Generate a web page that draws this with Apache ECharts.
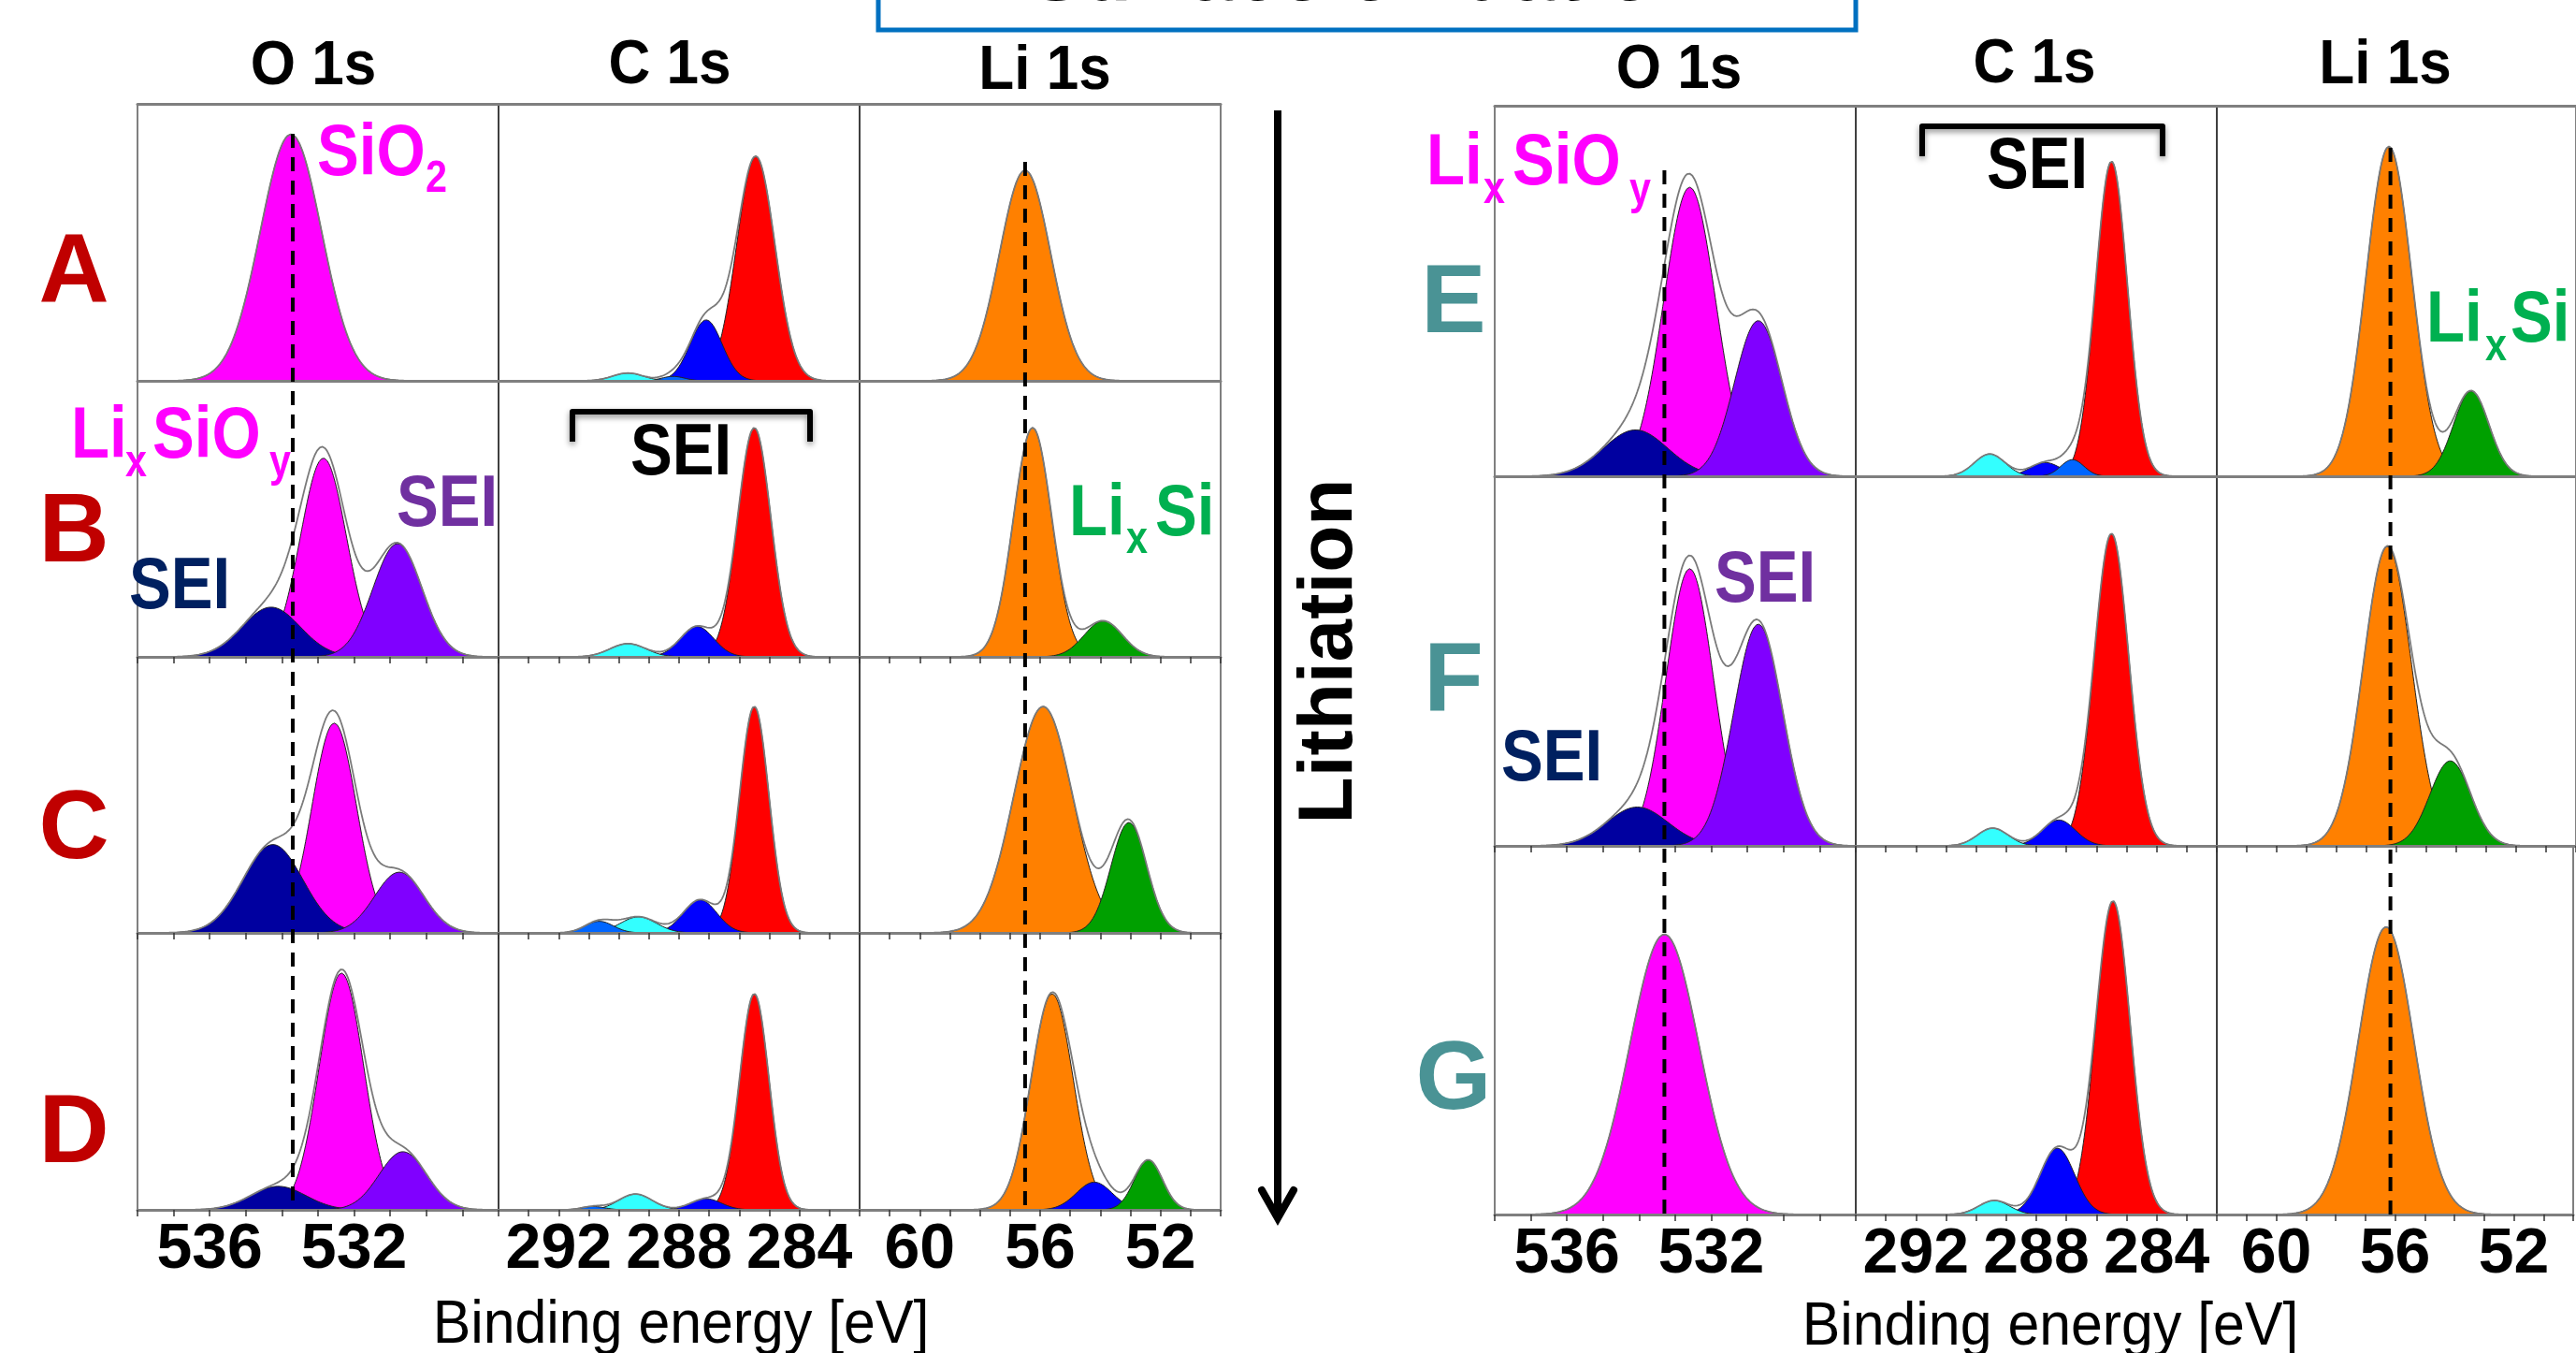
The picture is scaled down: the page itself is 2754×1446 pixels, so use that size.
<!DOCTYPE html>
<html><head><meta charset="utf-8">
<script src="https://cdn.jsdelivr.net/npm/echarts@6/dist/echarts.min.js"></script>
<style>html,body{margin:0;padding:0;background:#fff}#chart{width:2754px;height:1446px}</style>
</head><body><div id="chart"></div>
<script>
// ---------------- DATA ----------------
const columnKeys = ['O1s', 'C1s', 'Li1s'];
const columnTitles = ['O 1s', 'C 1s', 'Li 1s'];
const xRanges = { O1s: [528, 538], C1s: [282, 294], Li1s: [50, 62] };   // binding energy [eV]
const tickLabels = { O1s: [536, 532], C1s: [292, 288, 284], Li1s: [60, 56, 52] };
const leftRows = ['A', 'B', 'C', 'D'];
const rightRows = ['E', 'F', 'G'];
const refLineLeft = { O1s: 533.7, Li1s: 56.5 };
const refLineRight = { O1s: 533.3, Li1s: 56.2 };

// fitted components: [component, centre eV, height (fraction of panel), FWHM eV]
const O1s_A = [['O_main', 533.75, 0.89, 2.0]];
const C1s_A = [['C_CC', 285.45, 0.81, 1.5], ['C_CO', 287.1, 0.22, 1.25], ['C_CO3', 288.2, 0.016, 0.9], ['C_OCO', 289.7, 0.028, 1.2]];
const Li1s_A = [['Li_SEI', 56.5, 0.76, 2.0]];

const O1s_B = [['O_main', 532.85, 0.72, 1.5], ['O_SEI_hi', 534.3, 0.18, 1.9], ['O_SEI_lo', 530.8, 0.41, 1.6]];
const C1s_B = [['C_CC', 285.5, 0.83, 1.3], ['C_CO', 287.4, 0.11, 1.3], ['C_OCO', 289.7, 0.048, 1.4]];
const Li1s_B = [['Li_SEI', 56.25, 0.83, 1.5], ['Li_LixSi', 53.9, 0.13, 1.5]];

const O1s_C = [['O_main', 532.55, 0.76, 1.45], ['O_SEI_hi', 534.25, 0.32, 1.95], ['O_SEI_lo', 530.75, 0.22, 1.6]];
const C1s_C = [['C_CC', 285.5, 0.82, 1.15], ['C_CO', 287.3, 0.12, 1.3], ['C_OCO', 289.35, 0.058, 1.4], ['C_CO3', 290.65, 0.042, 1.1]];
const Li1s_C = [['Li_SEI', 55.9, 0.82, 2.3], ['Li_LixSi', 53.05, 0.40, 1.4]];

const O1s_D = [['O_main', 532.35, 0.855, 1.45], ['O_SEI_hi', 534.1, 0.085, 1.8], ['O_SEI_lo', 530.65, 0.21, 1.55]];
const C1s_D = [['C_CC', 285.5, 0.78, 1.15], ['C_CO', 287.1, 0.04, 1.2], ['C_OCO', 289.45, 0.057, 1.3], ['C_CO3', 290.85, 0.012, 0.9]];
const Li1s_D = [['Li_SEI', 55.6, 0.78, 1.65], ['Li_Li2O', 54.2, 0.10, 1.4], ['Li_LixSi', 52.4, 0.18, 1.1]];

const O1s_E = [['O_main', 532.6, 0.78, 1.7], ['O_SEI_hi', 534.1, 0.125, 2.1], ['O_SEI_lo', 530.7, 0.42, 1.55]];
const C1s_E = [['C_CC', 285.5, 0.85, 1.25], ['C_CO', 287.7, 0.037, 1.2], ['C_CO3', 286.8, 0.045, 0.9], ['C_OCO', 289.55, 0.06, 1.2]];
const Li1s_E = [['Li_SEI', 56.25, 0.89, 1.8], ['Li_LixSi', 53.5, 0.23, 1.4]];

const O1s_F = [['O_main', 532.6, 0.75, 1.55], ['O_SEI_hi', 534.05, 0.105, 2.0], ['O_SEI_lo', 530.7, 0.60, 1.6]];
const C1s_F = [['C_CC', 285.5, 0.845, 1.35], ['C_CO', 287.25, 0.07, 1.3], ['C_OCO', 289.45, 0.048, 1.2]];
const Li1s_F = [['Li_SEI', 56.3, 0.81, 1.9], ['Li_LixSi', 54.2, 0.23, 1.6]];

const O1s_G = [['O_main', 533.3, 0.76, 2.25]];
const C1s_G = [['C_CC', 285.45, 0.85, 1.35], ['C_CO', 287.3, 0.18, 1.35], ['C_OCO', 289.4, 0.038, 1.2]];
const Li1s_G = [['Li_SEI', 56.3, 0.78, 2.2]];

const spectra = {
  A: { O1s: O1s_A, C1s: C1s_A, Li1s: Li1s_A },
  B: { O1s: O1s_B, C1s: C1s_B, Li1s: Li1s_B },
  C: { O1s: O1s_C, C1s: C1s_C, Li1s: Li1s_C },
  D: { O1s: O1s_D, C1s: C1s_D, Li1s: Li1s_D },
  E: { O1s: O1s_E, C1s: C1s_E, Li1s: Li1s_E },
  F: { O1s: O1s_F, C1s: C1s_F, Li1s: Li1s_F },
  G: { O1s: O1s_G, C1s: C1s_G, Li1s: Li1s_G }
};

// ---------------- STYLE / LAYOUT ----------------
const FONT = '"Liberation Sans", Arial, Helvetica, sans-serif';
const componentColors = {
  O_main: '#FF00FF', O_SEI_hi: '#0000A0', O_SEI_lo: '#8000FF',
  C_CC: '#FF0000', C_CO: '#0000FF', C_OCO: '#33FFFF', C_CO3: '#0066FF',
  Li_SEI: '#FF8000', Li_LixSi: '#00A000', Li_Li2O: '#0000FF'
};
const colWidth = 386;
const sides = [
  { rows: leftRows, colLefts: [147, 533, 919], rowEdges: [111, 407, 702, 997, 1293], ref: refLineLeft, refTop: { O1s: 143, Li1s: 173 },
    titleX: [335, 716, 1117], titleY: [72, 71, 77] },
  { rows: rightRows, colLefts: [1598, 1984, 2370], rowEdges: [113, 509, 904, 1298], ref: refLineRight, refTop: { O1s: 182, Li1s: 158 },
    titleX: [1795, 2175, 2550], titleY: [76, 70, 71] }
];

function gauss(c, h, w, x) { return h * Math.exp(-4 * Math.LN2 * (x - c) * (x - c) / (w * w)); }
const STEP = 0.025;

const grids = [], xAxes = [], yAxes = [], series = [];

sides.forEach(side => {
  const nRows = side.rows.length;
  side.rows.forEach((rowKey, r) => {
    const top = side.rowEdges[r], bottom = side.rowEdges[r + 1];
    columnKeys.forEach((col, c) => {
      const range = xRanges[col];
      const gi = grids.length;
      grids.push({ left: side.colLefts[c], top: top, width: colWidth, height: bottom - top,
        show: true, borderColor: '#000', borderWidth: 1, backgroundColor: 'transparent' });
      const xi = xAxes.length;
      xAxes.push({
        gridIndex: gi, type: 'value', min: range[0], max: range[1], inverse: true, interval: 1, z: 3,
        axisLine: { show: true, onZero: false, lineStyle: { color: '#7f7f7f', width: 3 } },
        axisTick: { show: r > 0, length: 7, lineStyle: { color: '#333', width: 1.5 } },
        axisLabel: {
          show: r === nRows - 1, margin: 9, fontSize: 68, fontWeight: 'bold', color: '#000', fontFamily: FONT,
          formatter: v => tickLabels[col].indexOf(Math.round(v)) >= 0 ? String(Math.round(v)) : ''
        },
        splitLine: { show: false }
      });
      if (r === 0) {
        xAxes.push({ gridIndex: gi, type: 'value', position: 'top', min: range[0], max: range[1], inverse: true, z: 3,
          axisLine: { show: true, onZero: false, lineStyle: { color: '#7f7f7f', width: 3 } },
          axisTick: { show: false }, axisLabel: { show: false }, splitLine: { show: false } });
      }
      const yi = yAxes.length;
      yAxes.push({ gridIndex: gi, type: 'value', min: 0, max: 1, show: false });

      const peaks = spectra[rowKey][col];
      peaks.forEach((p, k) => {
        const [comp, ctr, h, w] = p;
        const lo = Math.max(range[0], ctr - 2.4 * w), hi = Math.min(range[1], ctr + 2.4 * w);
        const data = [];
        for (let x = lo; x <= hi + 1e-9; x += STEP) data.push([+x.toFixed(3), gauss(ctr, h, w, x)]);
        series.push({
          type: 'line', xAxisIndex: xi, yAxisIndex: yi, data: data, showSymbol: false, silent: true,
          z: 2 + k * 0.01, animation: false,
          lineStyle: { color: '#222', width: 1 },
          areaStyle: { color: componentColors[comp], opacity: 1, origin: 'start' }
        });
      });
      // envelope (sum of fitted components)
      const env = [];
      for (let x = range[0]; x <= range[1] + 1e-9; x += STEP) {
        let s = 0; peaks.forEach(p => { s += gauss(p[1], p[2], p[3], x); });
        env.push([+x.toFixed(3), s]);
      }
      series.push({ type: 'line', xAxisIndex: xi, yAxisIndex: yi, data: env, showSymbol: false, silent: true, z: 2.5,
        animation: false, lineStyle: { color: '#7a7a7a', width: 1.8 } });
    });
  });

  // dashed reference lines spanning the whole column
  ['O1s', 'Li1s'].forEach(col => {
    const c = columnKeys.indexOf(col);
    const top = side.rowEdges[0], bottom = side.rowEdges[nRows];
    const gi = grids.length;
    grids.push({ left: side.colLefts[c], top: top, width: colWidth, height: bottom - top, show: false });
    const xi = xAxes.length;
    xAxes.push({ gridIndex: gi, type: 'value', min: xRanges[col][0], max: xRanges[col][1], inverse: true, show: false });
    const yi = yAxes.length;
    yAxes.push({ gridIndex: gi, type: 'value', min: 0, max: 1, show: false });
    const yTop = (bottom - side.refTop[col]) / (bottom - top);
    series.push({ type: 'line', xAxisIndex: xi, yAxisIndex: yi, showSymbol: false, silent: true, z: 4, animation: false,
      data: [[side.ref[col], yTop], [side.ref[col], 0]],
      lineStyle: { color: '#000', width: 4, type: [15, 10] } });
  });
});

// ---------------- TEXT & DECORATION ----------------
function txt(text, x, y, size, color, opts) {
  opts = opts || {};
  return {
    type: 'text', x: x, y: y, z: 20, rotation: opts.rotation || 0, scaleX: opts.scaleX || 1,
    style: { text: text, fill: color, font: (opts.weight || 'bold') + ' ' + size + 'px ' + FONT,
      align: opts.align || 'left', textAlign: opts.align || 'left',
      verticalAlign: 'middle', textVerticalAlign: 'middle' }
  };
}
const AN = 78, SUB = 48, SX = 0.86;
const graphics = [
  // top box
  { type: 'rect', z: 20, shape: { x: 939, y: -30, width: 1045, height: 62 }, style: { fill: 'none', stroke: '#0070C0', lineWidth: 5 } },
  txt('Surface oxidation', 1461, -24, 86, '#000', { align: 'center' }),
  // row labels
  txt('A', 79, 293, 104, '#C00000', { align: 'center' }),
  txt('B', 79, 571, 104, '#C00000', { align: 'center' }),
  txt('C', 79, 888, 104, '#C00000', { align: 'center' }),
  txt('D', 79, 1213, 104, '#C00000', { align: 'center' }),
  txt('E', 1554, 326, 104, '#4A9395', { align: 'center' }),
  txt('F', 1554, 730, 104, '#4A9395', { align: 'center' }),
  txt('G', 1554, 1156, 104, '#4A9395', { align: 'center' }),
  // axis titles
  txt('Binding energy [eV]', 728, 1417, 64, '#000', { align: 'center', weight: 'normal', scaleX: 0.95 }),
  txt('Binding energy [eV]', 2192, 1419, 64, '#000', { align: 'center', weight: 'normal', scaleX: 0.95 }),
  // lithiation arrow
  txt('Lithiation', 1422, 696, 82, '#000', { align: 'center', rotation: Math.PI / 2 }),
  { type: 'line', z: 20, shape: { x1: 1366, y1: 118, x2: 1366, y2: 1298 }, style: { stroke: '#000', lineWidth: 8 } },
  { type: 'polyline', z: 20, shape: { points: [[1349, 1272], [1366, 1302], [1383, 1272]] },
    style: { stroke: '#000', lineWidth: 8, fill: 'none', lineCap: 'round', lineJoin: 'miter' } },
  // SEI brackets
  { type: 'polyline', z: 20, shape: { points: [[612, 472], [612, 440], [866, 440], [866, 472]] },
    style: { stroke: '#000', lineWidth: 6, fill: 'none', lineJoin: 'round', shadowBlur: 6, shadowColor: 'rgba(0,0,0,0.45)', shadowOffsetY: 3 } },
  { type: 'polyline', z: 20, shape: { points: [[2055, 167], [2055, 135], [2312, 135], [2312, 167]] },
    style: { stroke: '#000', lineWidth: 6, fill: 'none', lineJoin: 'round', shadowBlur: 6, shadowColor: 'rgba(0,0,0,0.45)', shadowOffsetY: 3 } },
  // annotations (left)
  txt('SiO', 339, 165, AN, '#FF00FF', { scaleX: SX }),
  txt('2', 455, 192, SUB, '#FF00FF', { scaleX: SX }),
  txt('Li', 76, 467, AN, '#FF00FF', { scaleX: SX }),
  txt('x', 134, 496, SUB, '#FF00FF', { scaleX: SX }),
  txt('SiO', 163, 467, AN, '#FF00FF', { scaleX: SX }),
  txt('y', 288, 496, SUB, '#FF00FF', { scaleX: SX }),
  txt('SEI', 424, 540, AN, '#7030A0', { scaleX: SX }),
  txt('SEI', 138, 628, AN, '#002060', { scaleX: SX }),
  txt('SEI', 674, 485, AN, '#000', { scaleX: SX }),
  txt('Li', 1143, 550, AN, '#00B050', { scaleX: SX }),
  txt('x', 1204, 578, SUB, '#00B050', { scaleX: SX }),
  txt('Si', 1235, 550, AN, '#00B050', { scaleX: SX }),
  // annotations (right)
  txt('Li', 1525, 175, AN, '#FF00FF', { scaleX: SX }),
  txt('x', 1586, 204, SUB, '#FF00FF', { scaleX: SX }),
  txt('SiO', 1617, 175, AN, '#FF00FF', { scaleX: SX }),
  txt('y', 1742, 205, SUB, '#FF00FF', { scaleX: SX }),
  txt('SEI', 2124, 179, AN, '#000', { scaleX: SX }),
  txt('Li', 2594, 343, AN, '#00B050', { scaleX: SX }),
  txt('x', 2657, 372, SUB, '#00B050', { scaleX: SX }),
  txt('Si', 2684, 343, AN, '#00B050', { scaleX: SX }),
  txt('SEI', 1833, 621, AN, '#7030A0', { scaleX: SX }),
  txt('SEI', 1605, 812, AN, '#002060', { scaleX: SX })
];
// column titles
sides.forEach(side => {
  columnTitles.forEach((t, c) => graphics.push(txt(t, side.titleX[c], side.titleY[c], 66, '#000', { align: 'center', scaleX: 0.94 })));
});

const chart = echarts.init(document.getElementById('chart'), null, { renderer: 'canvas' });
chart.setOption({
  backgroundColor: '#fff',
  animation: false,
  grid: grids, xAxis: xAxes, yAxis: yAxes, series: series,
  graphic: { elements: graphics }
});
</script></body></html>
